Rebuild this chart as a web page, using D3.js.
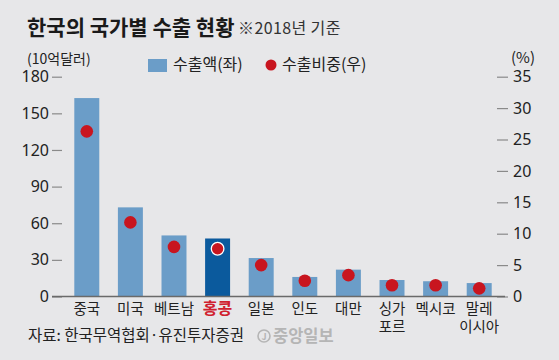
<!DOCTYPE html>
<html><head><meta charset="utf-8">
<script src="https://cdn.jsdelivr.net/npm/d3@7"></script>
<style>
html,body{margin:0;padding:0;background:#e7e7e9;}
svg{display:block;font-family:"Noto Sans CJK KR","Noto Sans",sans-serif;}
</style></head>
<body><svg id="c" width="559" height="360"></svg>
<script>
const categories = ["중국","미국","베트남","홍콩","일본","인도","대만","싱가\n포르","멕시코","말레\n이시아"];
const exportValues = [162.5, 73, 50, 47.5, 31.5, 16, 22, 13.5, 12.5, 11];
const shareValues = [26.3, 11.8, 7.9, 7.6, 5.0, 2.5, 3.4, 1.8, 1.8, 1.3];
const leftTicks = [0, 30, 60, 90, 120, 150, 180];
const rightTicks = [0, 5, 10, 15, 20, 25, 30, 35];
const highlight = "홍콩";

const svg = d3.select("#c");
const C = {bar:"#6b9dc8", barHi:"#0b5a9d", dot:"#c8151f", text:"#222", tick:"#8a8a8a", base:"#6a6a6a", red:"#d0202e"};

const x = d3.scaleBand().domain(categories).range([63.4, 502.6]).paddingInner(0.427).paddingOuter(0.25);
const y = d3.scaleLinear().domain([0,180]).range([296.5, 76.7]);
const y2 = d3.scaleLinear().domain([0,35]).range([296.5, 76.7]);

// title
svg.append("text").attr("x",27).attr("y",35).attr("font-size",21).attr("font-weight",700).attr("fill","#1a1a1a").text("한국의 국가별 수출 현황");
svg.append("text").attr("x",238).attr("y",34).attr("font-size",16).attr("letter-spacing",0.4).attr("fill","#333").text("※2018년 기준");

// unit labels
svg.append("text").attr("x",27).attr("y",64).attr("font-size",14).attr("fill",C.text).text("(10억달러)");
svg.append("text").attr("x",535).attr("y",63).attr("text-anchor","end").attr("font-size",15).attr("fill",C.text).text("(%)");

// legend
svg.append("rect").attr("x",148).attr("y",59).attr("width",19).attr("height",13).attr("fill",C.bar);
svg.append("text").attr("x",173).attr("y",70).attr("font-size",16).attr("fill",C.text).text("수출액(좌)");
svg.append("circle").attr("cx",271).attr("cy",65).attr("r",5.5).attr("fill",C.dot);
svg.append("text").attr("x",282).attr("y",70).attr("font-size",16).attr("fill",C.text).text("수출비중(우)");

// left axis
const ga = svg.append("g").attr("transform","translate(62,0)")
  .call(d3.axisLeft(y).tickValues(leftTicks).tickSize(10).tickPadding(3));
ga.select(".domain").remove();
ga.selectAll(".tick line").attr("stroke",C.tick).attr("stroke-width",1.2);
ga.selectAll(".tick text").attr("fill",C.text).attr("font-family","'Liberation Sans Narrow','Noto Sans',sans-serif").attr("font-size",16);

// right axis
const gb = svg.append("g").attr("transform","translate(497,0)")
  .call(d3.axisRight(y2).tickValues(rightTicks).tickSize(11).tickPadding(5));
gb.select(".domain").remove();
gb.selectAll(".tick line").attr("stroke",C.tick).attr("stroke-width",1.2);
gb.selectAll(".tick text").attr("fill",C.text).attr("font-family","'Liberation Sans Narrow','Noto Sans',sans-serif").attr("font-size",16);

// bars
svg.append("g").selectAll("rect").data(categories).join("rect")
  .attr("x",d=>x(d)).attr("width",x.bandwidth())
  .attr("y",(d,i)=>y(exportValues[i])).attr("height",(d,i)=>y(0)-y(exportValues[i]))
  .attr("fill",d=>d===highlight?C.barHi:C.bar);

// baseline
svg.append("line").attr("x1",52).attr("x2",505).attr("y1",y(0)).attr("y2",y(0)).attr("stroke",C.base).attr("stroke-width",1.3);

// dots
svg.append("g").selectAll("circle").data(categories).join("circle")
  .attr("cx",d=>x(d)+x.bandwidth()/2).attr("cy",(d,i)=>y2(shareValues[i])).attr("r",6.3)
  .attr("fill",C.dot)
  .attr("stroke",d=>d===highlight?"#fff":"none").attr("stroke-width",1.3);

// x labels
const xl = svg.append("g").selectAll("text").data(categories).join("text")
  .attr("x",d=>x(d)+x.bandwidth()/2).attr("y",314).attr("text-anchor","middle")
  .attr("font-size",d=>d===highlight?16:14.5)
  .attr("font-weight",d=>d===highlight?700:400)
  .attr("fill",d=>d===highlight?C.red:C.text);
xl.each(function(d){
  const lines = d.split("\n");
  d3.select(this).selectAll("tspan").data(lines).join("tspan")
    .attr("x",x(d)+x.bandwidth()/2).attr("dy",(l,i)=>i===0?0:17.5).text(l=>l);
});

// source
svg.append("text").attr("x",28).attr("y",341).attr("font-size",15.5).attr("fill",C.text).text("자료: 한국무역협회·유진투자증권");
// logo
const lg = svg.append("g").attr("fill","#b5b5b5");
svg.append("circle").attr("cx",264).attr("cy",336).attr("r",6).attr("fill","none").attr("stroke","#b5b5b5").attr("stroke-width",1.6);
lg.append("text").attr("x",264).attr("y",340).attr("text-anchor","middle").attr("font-size",9).attr("font-weight",700).text("J");
lg.append("text").attr("x",273).attr("y",342).attr("font-size",16.5).attr("font-weight",700).text("중앙일보");
</script></body></html>
